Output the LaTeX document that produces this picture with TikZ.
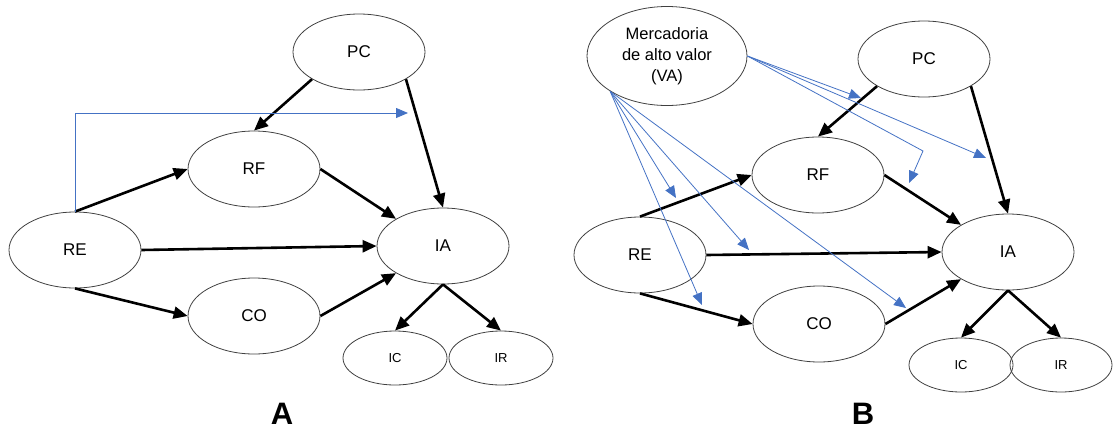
\documentclass[tikz,border=0pt]{standalone}
\usepackage{fontspec}
\setmainfont{Liberation Sans}
\usetikzlibrary{shapes.geometric,arrows.meta}
\definecolor{modblue}{RGB}{68,114,196}

\begin{document}
\begin{tikzpicture}[x=1pt,y=-1pt,
    var/.style={ellipse,draw=black!75,line width=0.8pt,inner sep=0pt,
        minimum width=132pt,minimum height=76pt,font=\fontsize{17}{20}\selectfont},
    outc/.style={var,minimum width=104pt,minimum height=54pt,font=\fontsize{13}{15}\selectfont},
    path/.style={line width=2.6pt,-{Triangle[length=14pt,width=12pt]}},
    mod/.style={modblue,line width=0.8pt,-{Triangle[length=12pt,width=10pt]}},
    panel/.style={inner sep=0pt,font=\bfseries\fontsize{31}{31}\selectfont}]
\useasboundingbox (0,0) rectangle (1114,432);

% model A
\node[var] (PCa) at (359,52) {PC};
\node[var] (RFa) at (254,169) {RF};
\node[var] (REa) at (75,250) {RE};
\node[var] (IAa) at (443,246) {IA};
\node[var] (COa) at (254,316) {CO};
\node[outc] (ICa) at (395,358) {IC};
\node[outc] (IRa) at (501,358) {IR};
\node[panel] (labA) at (282,414) {A};
\foreach \s/\t in {PCa.south west/RFa.north, PCa.south east/IAa.north,
    REa.north/RFa.west, REa.east/IAa.west, REa.south/COa.west,
    RFa.east/IAa.north west, COa.east/IAa.south west,
    IAa.south/ICa.north, IAa.south/IRa.north}
    \draw[path] (\s) -- (\t);
\coordinate (tipA) at (408,113);
\draw[mod] (REa.north) |- (tipA);

% model B
\node[var,minimum width=160pt,minimum height=99pt,align=center,
    font=\fontsize{16.5}{21}\selectfont] (VA) at (667,56) {Mercadoria\\de alto valor\\(VA)};
\node[var] (PCb) at (924,59) {PC};
\node[var] (RFb) at (818,175) {RF};
\node[var] (REb) at (640,255) {RE};
\node[var] (IAb) at (1008,252) {IA};
\node[var] (COb) at (819,324) {CO};
\node[outc] (ICb) at (961,365) {IC};
\node[outc,minimum width=102pt] (IRb) at (1061,365) {IR};
\node[panel] (labB) at (863,414) {B};
\foreach \s/\t in {PCb.south west/RFb.north, PCb.south east/IAb.north,
    REb.north/RFb.west, REb.east/IAb.west, REb.south/COb.west,
    RFb.east/IAb.north west, COb.east/IAb.south west,
    IAb.south/ICb.north, IAb.south/IRb.north}
    \draw[path] (\s) -- (\t);
% moderating effects of VA
\coordinate (m1) at (676,198);
\coordinate (m2) at (749,250);
\coordinate (m3) at (702,305);
\coordinate (m4) at (906,308);
\coordinate (m5) at (861,98);
\coordinate (bend) at (923,151);
\coordinate (m6) at (909,183);
\coordinate (m7) at (986,158);
\foreach \t in {m1,m2,m3,m4}
    \draw[mod] (VA.south west) -- (\t);
\draw[mod] (VA.east) -- (m5);
\draw[mod] (VA.east) -- (bend) -- (m6);
\draw[mod] (VA.east) -- (m7);
\end{tikzpicture}
\end{document}
